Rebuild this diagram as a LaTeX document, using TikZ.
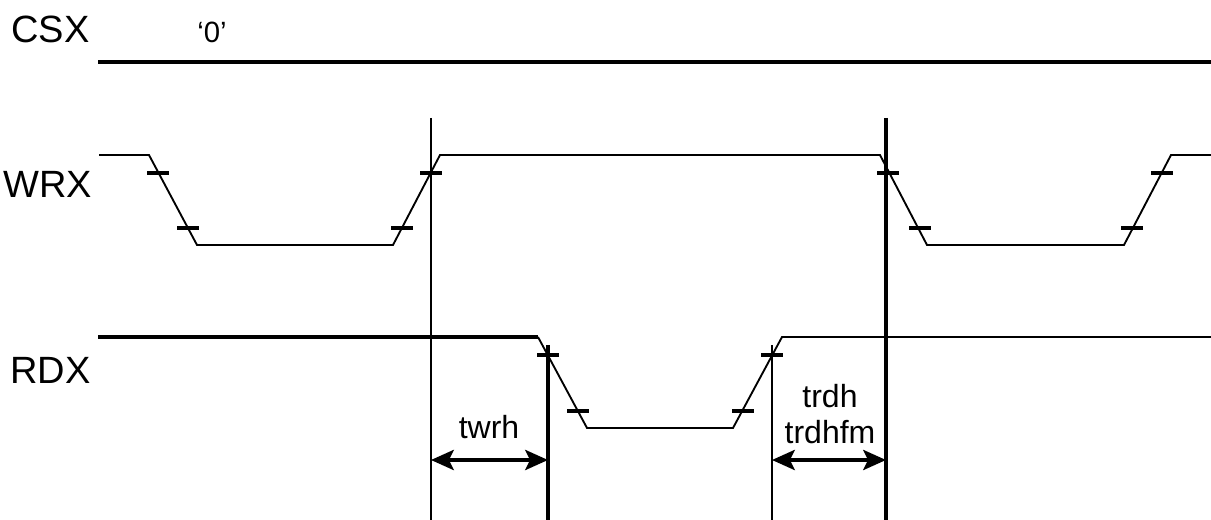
\documentclass[tikz,border=0pt]{standalone}
\usepackage{fontspec}
\setmainfont{Liberation Sans}
\usetikzlibrary{arrows.meta}
\begin{document}
\begin{tikzpicture}[x=0.75pt,y=-0.75pt,
  thinwave/.style={line width=1.4pt,line join=miter},
  thickwave/.style={line width=2.6pt},
  vline/.style={line width=2.8pt},
  tick/.style={line width=2.6pt},
  sig/.style={font=\fontsize{28.5}{32}\selectfont,anchor=base west,inner sep=0pt},
  lbl/.style={font=\fontsize{24}{28}\selectfont,anchor=base,inner sep=0pt},
  dim/.style={line width=2.8pt,{Stealth[length=17pt,width=15pt,inset=3.5pt]}-{Stealth[length=17pt,width=15pt,inset=3.5pt]}}]
\useasboundingbox (0,0) rectangle (1211,520);
% labels
\node[sig] (csx) at (11,43) {CSX};
\node[lbl,font=\fontsize{22}{26}\selectfont] (zero) at (212,43) {‘0’};
\node[sig] (wrx) at (3,198) {WRX};
\node[sig] (rdx) at (10,383) {RDX};
% CSX
\draw[thickwave] (98,62) -- (1211,62);
% WRX
\draw[thinwave] (99,155) -- (149,155) -- (197,245) -- (393,245) -- (440,155) -- (880,155) -- (927,245) -- (1124,245) -- (1171,155) -- (1211,155);
\foreach \x/\y in {158/173, 188/228, 402/228, 431/173, 888/173, 920/228, 1132/228, 1162/173}
  \draw[tick] (\x-11,\y) -- (\x+11,\y);
% RDX
\draw[thickwave] (98,337) -- (538,337);
\draw[thinwave] (538,337) -- (587,428) -- (733,428) -- (782,337) -- (1211,337);
\foreach \x/\y in {548/355, 578/411, 743/411, 772/355}
  \draw[tick] (\x-11,\y) -- (\x+11,\y);
% vertical reference lines
\coordinate (v1t) at (431,118); \coordinate (v1b) at (431,520);
\coordinate (v4t) at (886,118); \coordinate (v4b) at (886,520);
\coordinate (v2t) at (548,345); \coordinate (v2b) at (548,520);
\coordinate (v3t) at (772,345); \coordinate (v3b) at (772,520);
\draw[vline,line width=2.2pt] (v1t) -- (v1b);
\draw[vline] (v4t) -- (v4b);
\draw[vline] (v2t) -- (v2b);
\draw[vline,line width=2.2pt] (v3t) -- (v3b);
% dimensions
\coordinate (a1) at (431,460); \coordinate (a2) at (548,460);
\coordinate (b1) at (772,460); \coordinate (b2) at (886,460);
\draw[dim] (a1) -- (a2);
\draw[dim] (b1) -- (b2);
\node[lbl] (twrh) at (489,438) {twrh};
\node[lbl] (trdh) at (830,407) {trdh};
\node[lbl] (trdhfm) at (830,444) {trdhfm};
\end{tikzpicture}
\end{document}
